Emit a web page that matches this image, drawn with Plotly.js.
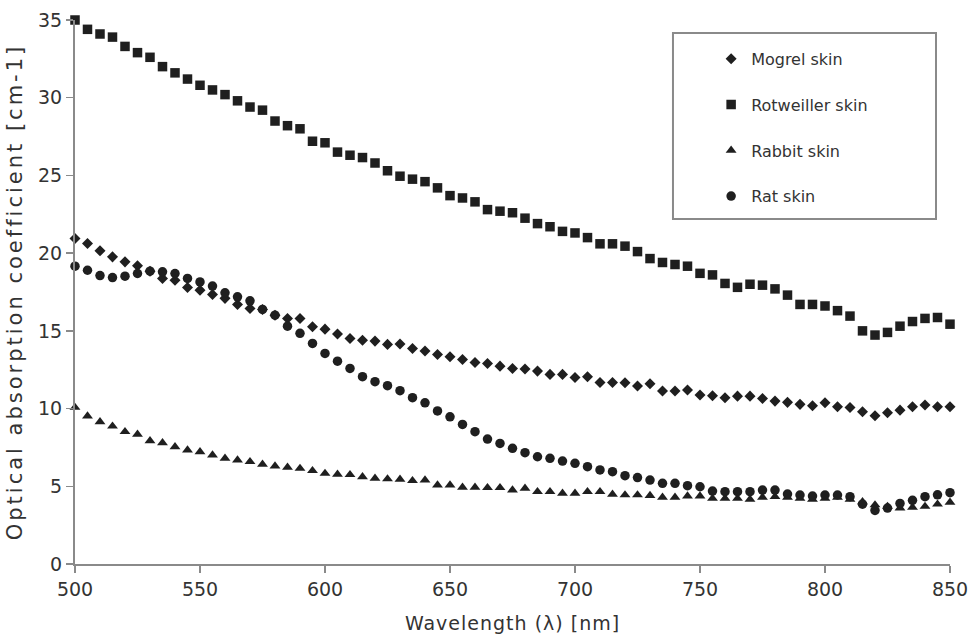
<!DOCTYPE html>
<html>
<head>
<meta charset="utf-8">
<script src="https://cdn.plot.ly/plotly-3.0.1.min.js"></script>
<style>
  html, body { margin: 0; padding: 0; background: #ffffff; }
  #chart { width: 971px; height: 636px; }
  #chart .ytitle { letter-spacing: 3px; }
  #chart .xtitle { letter-spacing: 1px; }
</style>
</head>
<body>
<div id="chart"></div>
<script>
const wavelength = [500,505,510,515,520,525,530,535,540,545,550,555,560,565,570,575,580,585,590,595,600,605,610,615,620,625,630,635,640,645,650,655,660,665,670,675,680,685,690,695,700,705,710,715,720,725,730,735,740,745,750,755,760,765,770,775,780,785,790,795,800,805,810,815,820,825,830,835,840,845,850];

const mogrelSkin = [20.94,20.62,20.15,19.76,19.44,19.19,18.84,18.37,18.26,17.79,17.62,17.34,17.09,16.70,16.44,16.38,16.01,15.80,15.80,15.26,15.11,14.80,14.51,14.40,14.34,14.13,14.15,13.87,13.70,13.48,13.33,13.16,12.97,12.90,12.73,12.58,12.54,12.41,12.20,12.20,12.00,12.05,11.68,11.68,11.66,11.45,11.60,11.13,11.13,11.19,10.87,10.82,10.70,10.80,10.80,10.65,10.48,10.40,10.27,10.18,10.37,10.12,10.07,9.80,9.54,9.73,9.90,10.12,10.23,10.12,10.12];

const rotweillerSkin = [35.0,34.4,34.1,33.9,33.3,32.9,32.6,32.0,31.6,31.2,30.8,30.5,30.2,29.8,29.4,29.2,28.5,28.2,28.0,27.2,27.1,26.5,26.3,26.15,25.8,25.3,24.95,24.76,24.6,24.2,23.7,23.55,23.3,22.8,22.7,22.6,22.25,21.9,21.7,21.4,21.3,21.0,20.6,20.6,20.45,20.1,19.65,19.4,19.27,19.16,18.7,18.6,18.05,17.8,18.0,17.94,17.7,17.3,16.7,16.7,16.6,16.3,15.95,15.0,14.73,14.9,15.3,15.6,15.8,15.86,15.43];

const rabbitSkin = [10.07,9.52,9.15,8.87,8.51,8.34,7.93,7.80,7.54,7.33,7.22,7.01,6.80,6.69,6.58,6.41,6.30,6.22,6.15,6.00,5.83,5.77,5.75,5.61,5.51,5.47,5.45,5.36,5.40,5.08,5.08,4.93,4.93,4.91,4.91,4.76,4.87,4.65,4.65,4.55,4.55,4.65,4.65,4.48,4.44,4.44,4.40,4.29,4.29,4.37,4.37,4.22,4.22,4.22,4.16,4.29,4.33,4.29,4.22,4.16,4.22,4.29,4.16,4.00,3.80,3.70,3.60,3.65,3.70,3.85,3.97];

const ratSkin = [19.16,18.90,18.56,18.43,18.52,18.69,18.84,18.80,18.69,18.37,18.15,17.88,17.45,17.19,16.93,16.38,16.01,15.30,14.84,14.19,13.55,13.05,12.58,12.05,11.73,11.47,11.15,10.70,10.37,9.85,9.47,8.98,8.51,8.04,7.76,7.44,7.16,6.90,6.80,6.62,6.48,6.26,6.05,5.94,5.68,5.56,5.40,5.19,5.19,5.04,4.97,4.69,4.65,4.65,4.65,4.76,4.76,4.50,4.44,4.37,4.44,4.44,4.33,3.85,3.45,3.60,3.90,4.10,4.33,4.45,4.59];

const seriesNames = ["Mogrel skin", "Rotweiller skin", "Rabbit skin", "Rat skin"];
const xTicks = [500,550,600,650,700,750,800,850];
const yTicks = [0,5,10,15,20,25,30,35];

const markerColor = "#1f1f1f";
function makeTrace(name, y, symbol, size, group) {
  return {
    type: "scatter",
    mode: "markers",
    name: name,
    x: wavelength,
    y: y,
    cliponaxis: false,
    legendgroup: group,
    marker: { symbol: symbol, size: size, color: markerColor, line: { width: 0 } }
  };
}

const traces = [
  makeTrace(seriesNames[0], mogrelSkin, "diamond", 8.5, "g1"),
  makeTrace(seriesNames[1], rotweillerSkin, "square", 9.5, "g2"),
  makeTrace(seriesNames[2], rabbitSkin, "triangle-up", 9.5, "g3"),
  makeTrace(seriesNames[3], ratSkin, "circle", 9.5, "g4")
];

const axisColor = "#8a8a8a";
const fontFam = "DejaVu Sans, Liberation Sans, sans-serif";

const layout = {
  width: 971,
  height: 636,
  margin: { l: 75, r: 21, t: 20, b: 72 },
  paper_bgcolor: "#ffffff",
  plot_bgcolor: "#ffffff",
  font: { family: fontFam, color: "#333333", size: 18 },
  showlegend: true,
  xaxis: {
    range: [500, 850],
    tickvals: xTicks,
    ticktext: xTicks.map(String),
    showgrid: false,
    zeroline: false,
    showline: true,
    linecolor: axisColor,
    linewidth: 2,
    ticks: "outside",
    ticklen: 7,
    tickwidth: 1.5,
    tickcolor: axisColor,
    tickfont: { family: fontFam, size: 19, color: "#333333" },
    title: { text: "Wavelength (\u03bb) [nm]", font: { family: fontFam, size: 19, color: "#333333" }, standoff: 18 }
  },
  yaxis: {
    range: [0, 35],
    tickvals: yTicks,
    ticktext: yTicks.map(String),
    showgrid: false,
    zeroline: false,
    showline: true,
    linecolor: axisColor,
    linewidth: 2,
    ticks: "outside",
    ticklen: 7,
    tickwidth: 1.5,
    tickcolor: axisColor,
    tickfont: { family: fontFam, size: 19, color: "#333333" },
    title: { text: "Optical absorption coefficient [cm-1]", font: { family: fontFam, size: 21, color: "#333333" } }
  },
  legend: {
    x: 0.727,
    y: 0.96,
    xanchor: "left",
    yanchor: "top",
    bgcolor: "rgba(0,0,0,0)",
    borderwidth: 0,
    tracegroupgap: 22,
    font: { family: fontFam, size: 16, color: "#333333" }
  },
  shapes: [
    {
      type: "rect",
      xref: "paper",
      yref: "paper",
      x0: 0.6834, x1: 0.984,
      y0: 0.634, y1: 0.976,
      line: { color: axisColor, width: 2 },
      fillcolor: "rgba(255,255,255,0)"
    }
  ]
};

Plotly.newPlot("chart", traces, layout, { displayModeBar: false, staticPlot: true });
</script>
</body>
</html>
